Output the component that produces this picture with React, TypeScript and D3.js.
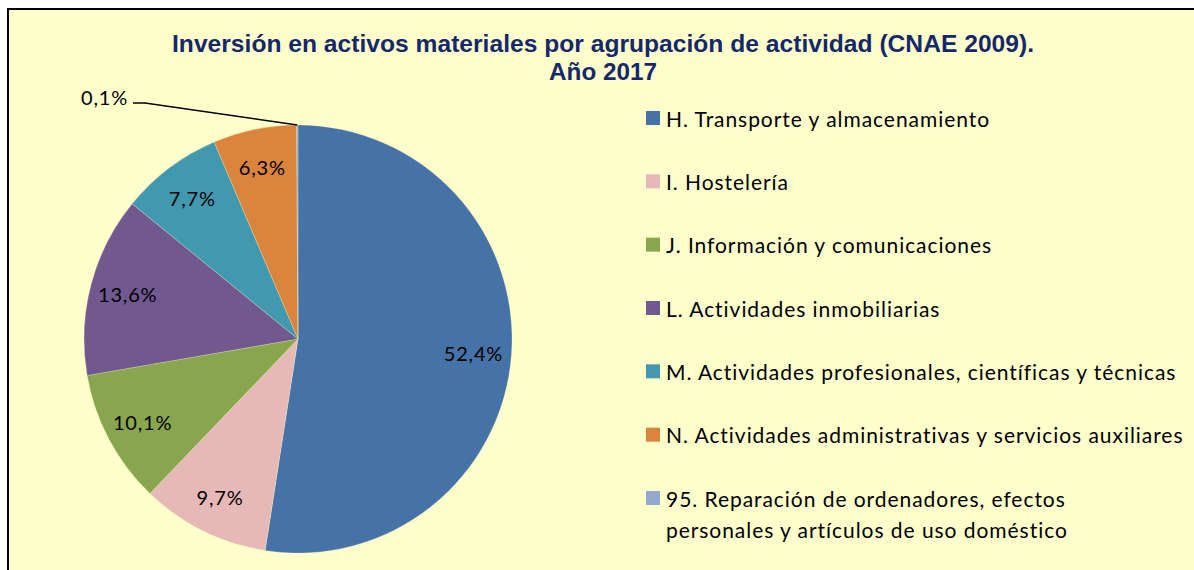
import React from "react";
import * as d3 from "d3";

const categories: string[][] = [
  ["H. Transporte y almacenamiento"],
  ["I. Hostelería"],
  ["J. Información y comunicaciones"],
  ["L. Actividades inmobiliarias"],
  ["M. Actividades profesionales, científicas y técnicas"],
  ["N. Actividades administrativas y servicios auxiliares"],
  ["95. Reparación de ordenadores, efectos", "personales y artículos de uso doméstico"],
];
const values: number[] = [52.4, 9.7, 10.1, 13.6, 7.7, 6.3, 0.1];
const colors: string[] = ["#4572A7", "#E6B9B8", "#89A54E", "#71588F", "#4198AF", "#DB843D", "#93A9CF"];
const titleLines: string[] = [
  "Inversión en activos materiales por agrupación de actividad (CNAE 2009).",
  "Año 2017",
];

const W = 1194;
const H = 570;
const cx = 298;
const cy = 339;
const R = 214;
const labelR = 176;

const fmt = (v: number) => v.toFixed(1).replace(".", ",") + "%";

export default function App() {
  const pie = d3.pie<number>().sort(null).value((d) => d);
  const arcs = pie(values);
  const arc = d3.arc<d3.PieArcDatum<number>>().innerRadius(0).outerRadius(R);
  const labelArc = d3.arc<d3.PieArcDatum<number>>().innerRadius(labelR).outerRadius(labelR);
  const edgeArc = d3.arc<d3.PieArcDatum<number>>().innerRadius(R).outerRadius(R);

  const legendY = d3.scaleLinear().domain([0, categories.length - 1]).range([118, 498]);

  const last = arcs[arcs.length - 1];
  const edge = edgeArc.centroid(last);
  const leaderPts: [number, number][] = [
    [cx - 165, 103],
    [cx - 153, 103],
    [cx + edge[0], cy + edge[1]],
  ];

  return (
    <svg
      width={W}
      height={H}
      style={{ position: "fixed", left: 0, top: 0, background: "#fff" }}
    >
      <rect x={8} y={9} width={W + 10} height={H + 10} fill="#FFFFCC" stroke="#000" strokeWidth={2} />
      <g fontFamily="'Liberation Sans', Arial, sans-serif" fontWeight="bold" fill="#14286B" textAnchor="middle">
        <text x={603} y={52} fontSize={24} textLength={862} lengthAdjust="spacingAndGlyphs">
          {titleLines[0]}
        </text>
        <text x={603} y={80} fontSize={24} textLength={108} lengthAdjust="spacingAndGlyphs">
          {titleLines[1]}
        </text>
      </g>
      <g transform={`translate(${cx},${cy})`}>
        {arcs.map((a, i) => (
          <path key={i} d={arc(a) || ""} fill={colors[i]} stroke="#FFFFCC" strokeWidth={0.4} strokeOpacity={0.6} />
        ))}
        {arcs.slice(0, arcs.length - 1).map((a, i) => {
          const [x, y] = labelArc.centroid(a);
          return (
            <text
              key={i}
              x={x}
              y={y}
              fontFamily="Lato, 'Open Sans', sans-serif"
              fontSize={20}
              letterSpacing={0.8}
              textAnchor="middle"
              dominantBaseline="central"
              fill="#000"
            >
              {fmt(values[i])}
            </text>
          );
        })}
      </g>
      <polyline points={leaderPts.map((p) => p.join(",")).join(" ")} fill="none" stroke="#000" strokeWidth={1.5} />
      <text
        x={cx - 170}
        y={97}
        fontFamily="Lato, 'Open Sans', sans-serif"
        fontSize={20}
        letterSpacing={0.8}
        textAnchor="end"
        dominantBaseline="central"
      >
        {fmt(values[values.length - 1])}
      </text>
      <g fontFamily="Lato, 'Open Sans', sans-serif" fontSize={21} letterSpacing={0.95} fill="#000">
        {categories.map((lines, i) => (
          <g key={i}>
            <rect x={646} y={legendY(i) - 7} width={14} height={14} fill={colors[i]} />
            {lines.map((l, j) => (
              <text key={j} x={666} y={legendY(i) + j * 31} dominantBaseline="central">
                {l}
              </text>
            ))}
          </g>
        ))}
      </g>
    </svg>
  );
}
